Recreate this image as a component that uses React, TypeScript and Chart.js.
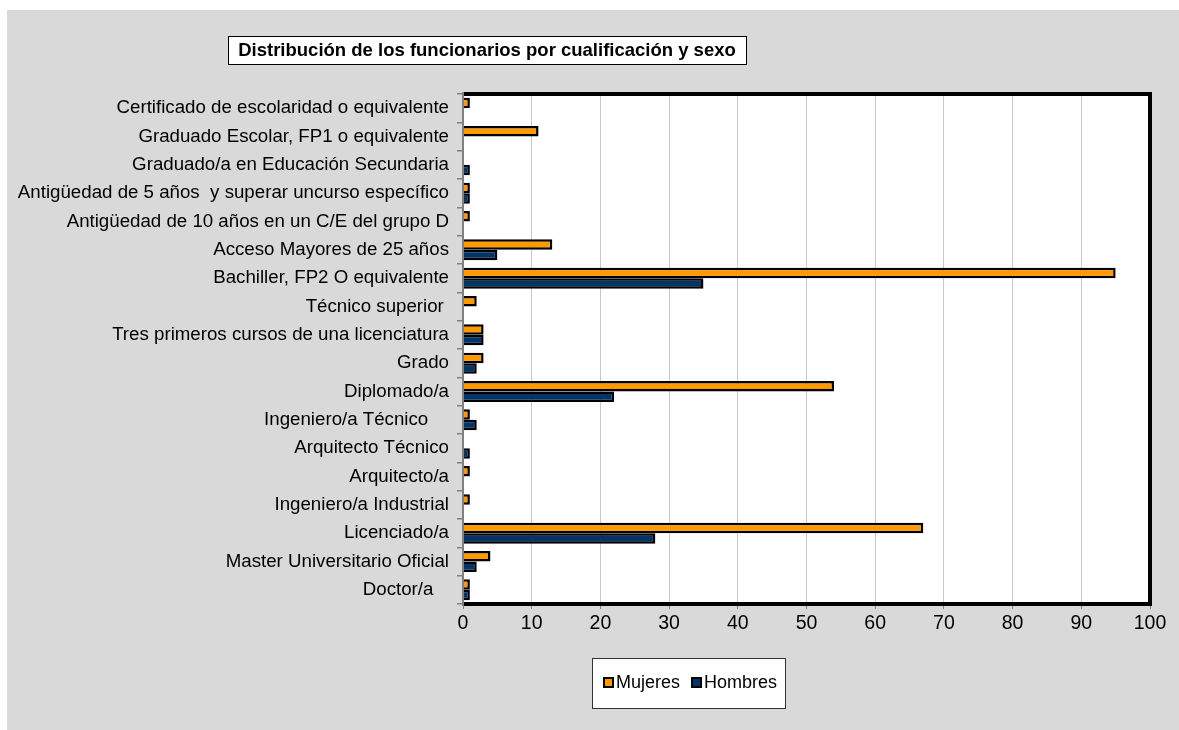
import React, { useEffect, useRef } from "react";
import { Chart, registerables } from "chart.js";

Chart.register(...registerables);

const categories = [
  "Certificado de escolaridad o equivalente",
  "Graduado Escolar, FP1 o equivalente",
  "Graduado/a en Educación Secundaria",
  "Antigüedad de 5 años  y superar uncurso específico",
  "Antigüedad de 10 años en un C/E del grupo D",
  "Acceso Mayores de 25 años",
  "Bachiller, FP2 O equivalente",
  "Técnico superior ",
  "Tres primeros cursos de una licenciatura",
  "Grado",
  "Diplomado/a",
  "Ingeniero/a Técnico    ",
  "Arquitecto Técnico",
  "Arquitecto/a",
  "Ingeniero/a Industrial",
  "Licenciado/a",
  "Master Universitario Oficial",
  "Doctor/a   ",
];

const mujeres = [1, 11, 0, 1, 1, 13, 95, 2, 3, 3, 54, 1, 0, 1, 1, 67, 4, 1];
const hombres = [0, 0, 1, 1, 0, 5, 35, 0, 3, 2, 22, 2, 1, 0, 0, 28, 2, 1];

const seriesNames = ["Mujeres", "Hombres"];
const seriesColors = ["#FF9900", "#003366"];
const titleText = "Distribución de los funcionarios por cualificación y sexo";

const FONT = "'Liberation Sans', Arial, sans-serif";

const decorPlugin = {
  id: "decor",
  beforeDraw(chart: any) {
    const ctx = chart.ctx;
    const { width, height } = chart;
    ctx.save();
    ctx.fillStyle = "#ffffff";
    ctx.fillRect(0, 0, width, height);
    ctx.fillStyle = "#d9d9d9";
    ctx.fillRect(7, 10, width - 7, height - 10);
    const a = chart.chartArea;
    ctx.fillStyle = "#ffffff";
    ctx.fillRect(a.left, a.top, a.right - a.left, a.bottom - a.top);
    ctx.restore();
  },
  afterDraw(chart: any) {
    const ctx = chart.ctx;
    const a = chart.chartArea;
    ctx.save();
    // plot border (top, right, bottom)
    ctx.strokeStyle = "#000000";
    ctx.lineWidth = 4;
    ctx.beginPath();
    ctx.moveTo(a.left, a.top);
    ctx.lineTo(a.right, a.top);
    ctx.lineTo(a.right, a.bottom);
    ctx.lineTo(a.left, a.bottom);
    ctx.stroke();
    // left axis line
    ctx.strokeStyle = "#808080";
    ctx.lineWidth = 2;
    ctx.beginPath();
    ctx.moveTo(a.left, a.top - 2);
    ctx.lineTo(a.left, a.bottom + 2);
    ctx.stroke();

    // title box
    ctx.font = `bold 18.5px ${FONT}`;
    const bx = 228, by = 36, bh = 28, bw = 518;
    ctx.fillStyle = "#ffffff";
    ctx.fillRect(bx, by, bw, bh);
    ctx.strokeStyle = "#000000";
    ctx.lineWidth = 1;
    ctx.strokeRect(bx + 0.5, by + 0.5, bw, bh);
    ctx.fillStyle = "#000000";
    ctx.textBaseline = "middle";
    ctx.textAlign = "center";
    ctx.fillText(titleText, bx + bw / 2, by + bh / 2 + 1);

    // legend box
    const lx = 592, ly = 658, lw = 193, lh = 50;
    ctx.fillStyle = "#ffffff";
    ctx.fillRect(lx, ly, lw, lh);
    ctx.strokeStyle = "#333333";
    ctx.lineWidth = 1;
    ctx.strokeRect(lx + 0.5, ly + 0.5, lw, lh);
    ctx.font = `18px ${FONT}`;
    ctx.textAlign = "left";
    let x = lx + 12;
    const cy = ly + 25;
    seriesNames.forEach((name, i) => {
      ctx.fillStyle = seriesColors[i];
      ctx.fillRect(x, cy - 5, 9, 9);
      ctx.strokeStyle = "#000000";
      ctx.lineWidth = 2;
      ctx.strokeRect(x, cy - 5, 9, 9);
      ctx.fillStyle = "#000000";
      ctx.fillText(name, x + 12, cy);
      x += 12 + ctx.measureText(name).width + 12;
    });
    ctx.restore();
  },
};

export default function App() {
  const ref = useRef<HTMLCanvasElement>(null);
  useEffect(() => {
    if (!ref.current) return;
    const chart = new Chart(ref.current, {
      type: "bar",
      data: {
        labels: categories,
        datasets: [
          {
            label: seriesNames[0],
            data: mujeres,
            backgroundColor: seriesColors[0],
            borderColor: "#000000",
            borderWidth: 2.5,
            categoryPercentage: 0.74,
            barPercentage: 1,
          },
          {
            label: seriesNames[1],
            data: hombres,
            backgroundColor: seriesColors[1],
            borderColor: "#000000",
            borderWidth: 2.5,
            categoryPercentage: 0.74,
            barPercentage: 1,
          },
        ],
      },
      options: {
        indexAxis: "y",
        responsive: false,
        animation: false,
        layout: { padding: { top: 94, right: 29, bottom: 0, left: 0 } },
        plugins: {
          legend: { display: false },
          title: { display: false },
          tooltip: { enabled: false },
        },
        scales: {
          x: {
            type: "linear",
            position: "bottom",
            min: 0,
            max: 100,
            ticks: {
              stepSize: 10,
              color: "#000000",
              font: { family: FONT, size: 19.5 },
              padding: 3,
            },
            grid: {
              color: "#c8c8c8",
              lineWidth: 1,
              tickLength: 5,
              tickColor: "#808080",
            },
            border: { display: false },
            afterFit(scale: any) {
              scale.height = 126;
            },
          },
          y: {
            type: "category",
            ticks: {
              color: "#000000",
              font: { family: FONT, size: 18.7 },
              padding: 8,
              autoSkip: false,
            },
            grid: {
              offset: true,
              drawOnChartArea: false,
              tickLength: 6,
              color: "#808080",
              lineWidth: 1.5,
            },
            border: { display: false },
            afterFit(scale: any) {
              scale.width = 463;
            },
          },
        },
      },
      plugins: [decorPlugin],
    } as any);
    return () => chart.destroy();
  }, []);
  return (
    <div style={{ position: "absolute", left: 0, top: 0, width: 1179, height: 730 }}>
      <canvas ref={ref} width={1179} height={730} style={{ display: "block" }} />
    </div>
  );
}
